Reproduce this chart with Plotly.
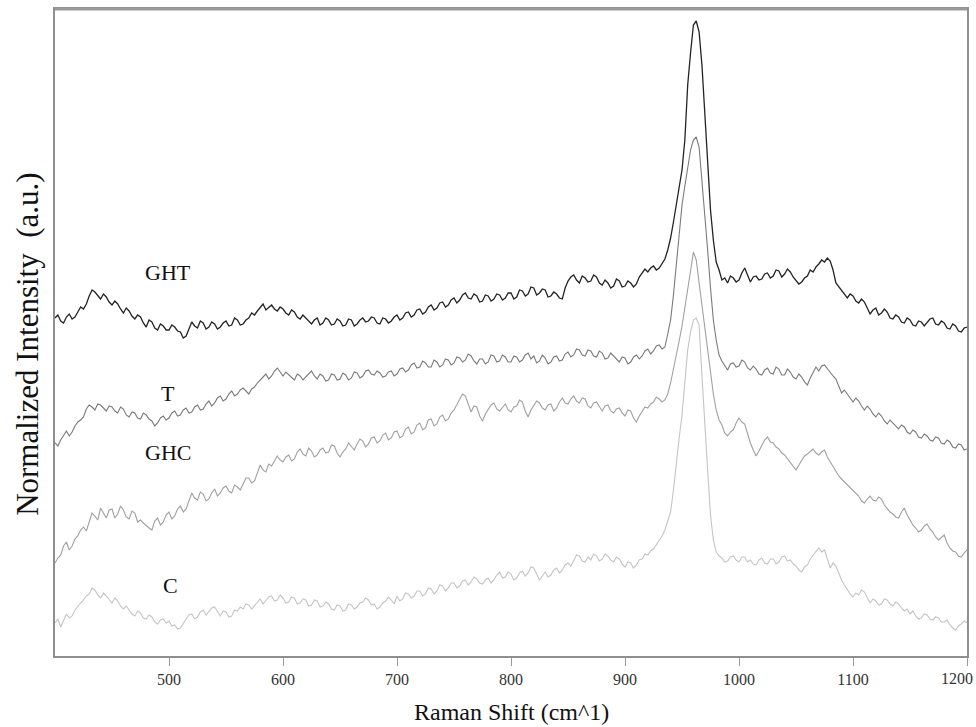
"""Raman spectra of the four samples (GHT, T, GHC, C), stacked, Plotly version."""

import numpy as np
import plotly.graph_objects as go

# wavenumber sampling grid (cm^-1), 2.5 cm^-1 steps
raman_shift = np.arange(400, 1200.1, 2.5)

# intensities (a.u., offset stacked), one value per grid point
ght = [
    338, 341, 335, 333, 339, 342, 337, 339, 344, 349, 347, 352, 360, 366, 364, 360, 357, 362, 359, 354,
    351, 355, 352, 347, 343, 348, 345, 340, 337, 341, 339, 333, 329, 336, 334, 328, 326, 332, 330, 326,
    326, 331, 329, 325, 324, 318, 320, 327, 334, 330, 328, 335, 333, 327, 329, 334, 332, 327, 329, 333,
    335, 330, 331, 338, 336, 331, 332, 336, 338, 343, 341, 345, 348, 352, 346, 349, 351, 347, 345, 349,
    347, 343, 341, 346, 344, 339, 337, 341, 338, 334, 332, 336, 338, 331, 333, 338, 336, 331, 332, 337,
    335, 330, 331, 337, 336, 330, 332, 336, 338, 334, 335, 339, 338, 333, 332, 338, 337, 333, 335, 339,
    341, 336, 338, 343, 344, 339, 341, 346, 347, 342, 344, 349, 351, 346, 348, 353, 354, 349, 351, 356,
    358, 353, 356, 361, 363, 358, 357, 362, 360, 354, 355, 361, 360, 355, 357, 362, 361, 356, 358, 363,
    363, 357, 359, 366, 365, 360, 362, 369, 368, 361, 363, 367, 366, 359, 360, 364, 362, 358, 357, 368,
    375, 379, 381, 376, 373, 380, 378, 374, 375, 381, 379, 373, 371, 376, 373, 368, 370, 377, 375, 369,
    370, 375, 373, 369, 372, 379, 383, 387, 384, 388, 390, 386, 388, 393, 397, 406, 418, 434, 452, 466,
    486, 516, 571, 603, 631, 635, 624, 591, 540, 501, 446, 416, 394, 386, 376, 378, 373, 380, 378, 374,
    376, 383, 388, 381, 374, 379, 380, 376, 377, 382, 383, 378, 380, 386, 385, 379, 382, 387, 384, 379,
    375, 372, 374, 378, 380, 386, 384, 389, 392, 396, 394, 398, 395, 386, 373, 369, 366, 361, 358, 362,
    360, 355, 353, 357, 354, 348, 342, 346, 348, 341, 343, 347, 344, 338, 337, 341, 339, 334, 333, 338,
    336, 331, 330, 335, 334, 330, 333, 337, 338, 332, 331, 335, 333, 328, 327, 332, 330, 325, 324, 328,
    329,
]
t = [
    213, 210, 216, 221, 225, 220, 224, 230, 234, 236, 239, 247, 251, 249, 246, 252, 251, 248, 245, 250,
    249, 245, 243, 249, 247, 241, 239, 244, 243, 238, 237, 243, 241, 237, 235, 230, 233, 238, 240, 236,
    238, 243, 245, 240, 241, 246, 248, 243, 244, 249, 251, 246, 247, 252, 255, 250, 253, 258, 260, 255,
    257, 262, 265, 260, 262, 266, 268, 265, 262, 267, 269, 273, 276, 280, 282, 277, 280, 285, 288, 284,
    280, 284, 281, 278, 276, 282, 280, 276, 279, 283, 285, 280, 277, 282, 280, 275, 276, 282, 281, 276,
    277, 283, 281, 276, 278, 284, 283, 278, 280, 285, 286, 282, 281, 285, 283, 279, 280, 284, 285, 280,
    282, 287, 288, 284, 286, 291, 293, 288, 289, 295, 293, 289, 289, 296, 294, 289, 291, 297, 296, 291,
    293, 299, 298, 294, 296, 302, 300, 295, 292, 297, 297, 292, 294, 301, 300, 294, 295, 301, 299, 294,
    294, 300, 299, 294, 296, 301, 303, 297, 300, 293, 295, 301, 298, 292, 294, 299, 300, 295, 296, 302,
    304, 299, 301, 307, 306, 301, 300, 306, 305, 300, 299, 305, 303, 297, 298, 303, 300, 296, 294, 299,
    298, 292, 294, 299, 301, 297, 300, 305, 307, 302, 305, 310, 311, 307, 309, 322, 336, 361, 393, 422,
    451, 470, 488, 506, 516, 519, 509, 476, 436, 406, 368, 336, 316, 301, 295, 291, 286, 292, 293, 289,
    290, 296, 294, 288, 286, 290, 287, 282, 281, 286, 288, 283, 282, 289, 287, 281, 281, 287, 284, 279,
    277, 282, 279, 274, 271, 278, 284, 289, 285, 290, 291, 287, 284, 280, 277, 270, 263, 266, 262, 257,
    254, 258, 255, 250, 246, 250, 247, 242, 239, 243, 240, 235, 232, 236, 233, 229, 227, 231, 229, 224,
    222, 226, 224, 219, 218, 222, 220, 216, 215, 219, 218, 213, 212, 216, 214, 209, 208, 212, 211, 206,
    207,
]
ghc = [
    93, 98, 101, 110, 114, 106, 110, 117, 120, 126, 129, 125, 134, 143, 140, 136, 148, 143, 138, 146,
    147, 138, 142, 150, 146, 139, 137, 145, 143, 134, 136, 133, 130, 128, 126, 135, 138, 131, 134, 141,
    144, 137, 140, 147, 150, 144, 147, 156, 163, 158, 156, 164, 162, 155, 157, 163, 167, 160, 163, 168,
    170, 165, 163, 171, 169, 166, 172, 178, 178, 173, 175, 184, 191, 186, 184, 192, 190, 195, 200, 196,
    194, 199, 201, 195, 197, 204, 207, 202, 200, 208, 205, 199, 201, 206, 208, 203, 204, 211, 210, 203,
    199, 204, 207, 213, 210, 206, 212, 217, 215, 209, 212, 218, 219, 213, 215, 221, 223, 216, 218, 224,
    225, 218, 220, 227, 229, 222, 224, 231, 233, 226, 228, 236, 237, 230, 232, 239, 241, 235, 237, 243,
    246, 251, 256, 262, 260, 252, 244, 250, 249, 240, 235, 242, 246, 251, 253, 247, 245, 249, 252, 246,
    244, 249, 250, 256, 254, 245, 239, 246, 251, 255, 253, 248, 246, 251, 252, 245, 248, 254, 258, 253,
    252, 257, 260, 255, 253, 258, 257, 250, 248, 253, 254, 249, 245, 250, 251, 245, 243, 247, 248, 243,
    240, 246, 245, 238, 234, 240, 244, 249, 248, 252, 254, 259, 257, 254, 256, 262, 273, 286, 300, 315,
    330, 347, 364, 385, 404, 396, 373, 351, 328, 306, 284, 262, 246, 236, 231, 223, 220, 224, 226, 233,
    238, 234, 232, 222, 213, 206, 200, 205, 211, 216, 219, 214, 213, 209, 207, 203, 201, 197, 194, 189,
    186, 191, 196, 200, 202, 205, 207, 203, 201, 204, 206, 199, 194, 189, 184, 180, 177, 174, 171, 168,
    166, 162, 160, 155, 153, 157, 160, 156, 155, 159, 157, 151, 147, 144, 142, 139, 138, 144, 148, 141,
    136, 131, 128, 124, 126, 130, 132, 127, 124, 119, 116, 119, 121, 113, 108, 105, 104, 100, 99, 103,
    106,
]
c = [
    33, 37, 29, 35, 42, 38, 40, 46, 50, 53, 56, 60, 62, 68, 66, 61, 58, 63, 60, 56,
    53, 58, 55, 50, 47, 50, 46, 42, 40, 45, 43, 38, 37, 41, 39, 34, 32, 36, 37, 33,
    35, 30, 31, 27, 28, 33, 37, 41, 42, 37, 39, 44, 46, 41, 44, 48, 49, 44, 40, 45,
    44, 39, 40, 46, 45, 49, 47, 52, 51, 47, 50, 54, 57, 52, 55, 59, 60, 55, 56, 61,
    58, 53, 54, 59, 58, 52, 53, 57, 56, 50, 51, 56, 55, 49, 50, 54, 52, 47, 46, 51,
    50, 45, 46, 52, 51, 47, 49, 53, 54, 58, 56, 51, 52, 47, 49, 53, 55, 59, 56, 52,
    60, 55, 57, 63, 62, 58, 60, 65, 65, 60, 62, 68, 67, 62, 65, 71, 70, 65, 68, 73,
    73, 68, 70, 75, 76, 71, 74, 79, 77, 73, 72, 76, 78, 73, 76, 81, 84, 78, 79, 84,
    82, 76, 78, 83, 85, 80, 83, 89, 88, 82, 76, 80, 84, 79, 81, 86, 88, 83, 86, 91,
    93, 90, 96, 101, 100, 95, 94, 99, 96, 102, 100, 95, 97, 102, 100, 96, 94, 99, 97, 92,
    89, 94, 93, 88, 91, 96, 97, 102, 101, 105, 107, 111, 115, 120, 126, 134, 144, 166, 194, 218,
    241, 276, 306, 324, 336, 338, 331, 280, 226, 186, 141, 116, 104, 100, 98, 94, 95, 99, 100, 96,
    94, 99, 99, 94, 96, 92, 91, 96, 98, 93, 92, 97, 97, 92, 94, 99, 100, 95, 96, 92,
    90, 86, 84, 89, 91, 97, 101, 105, 108, 104, 106, 97, 88, 93, 90, 83, 76, 71, 66, 62,
    59, 63, 61, 66, 64, 58, 53, 57, 55, 51, 52, 57, 56, 52, 50, 54, 52, 48, 45, 47,
    42, 45, 40, 37, 38, 42, 41, 37, 36, 39, 38, 34, 34, 36, 31, 28, 26, 30, 32, 35,
    33,
]

series_names = ["GHT", "T", "GHC", "C"]
series_values = [ght, t, ghc, c]
series_colors = ["#232323", "#7a7a7a", "#a0a0a0", "#c4c4c4"]
series_widths = [1.3, 1.1, 1.1, 1.1]
# where each sample name is written (cm^-1, a.u.)
label_x = [499, 499, 499, 501]
label_y = [384, 263, 204, 71]

x_ticks = [500, 600, 700, 800, 900, 1000, 1100, 1200]
# the last label sits against the right edge, so it is drawn separately
x_tick_text = ["500", "600", "700", "800", "900", "1000", "1100", ""]
SERIF = "Liberation Serif, Times New Roman, serif"

fig = go.Figure()
for name, vals, col, lw in zip(series_names, series_values, series_colors, series_widths):
    fig.add_trace(
        go.Scatter(
            x=raman_shift,
            y=vals,
            mode="lines",
            name=name,
            line=dict(color=col, width=lw),
            showlegend=False,
        )
    )

for name, lx, ly in zip(series_names, label_x, label_y):
    fig.add_annotation(
        x=lx, y=ly, text=name, showarrow=False,
        font=dict(family=SERIF, size=22, color="#111111"),
        xanchor="center", yanchor="middle",
    )

fig.add_annotation(
    xref="paper", yref="paper", x=1.009, y=-0.0355, text="1200",
    showarrow=False, xanchor="right", yanchor="middle",
    font=dict(family=SERIF, size=16, color="#333333"),
)
fig.add_annotation(
    xref="paper", yref="paper", x=0.5, y=-0.087, text="Raman Shift (cm^1)",
    showarrow=False, xanchor="center", yanchor="middle",
    font=dict(family=SERIF, size=24, color="#111111"),
)
fig.add_annotation(
    xref="paper", yref="paper", x=-0.031, y=0.482, text="Normalized Intensity  (a.u.)",
    showarrow=False, textangle=-90, xanchor="center", yanchor="middle",
    font=dict(family=SERIF, size=31, color="#111111"),
)

# heavier top rule of the frame
fig.add_shape(
    type="line", xref="paper", yref="paper", x0=0, x1=1, y0=1, y1=1,
    line=dict(color="#9a9a9a", width=3),
)

fig.update_layout(
    width=976,
    height=727,
    margin=dict(l=55, r=9, t=9, b=71),
    paper_bgcolor="white",
    plot_bgcolor="white",
    font=dict(family=SERIF, color="#222222"),
)
fig.update_xaxes(
    range=[400, 1200],
    tickvals=x_ticks,
    ticktext=x_tick_text,
    ticks="outside",
    ticklen=8,
    tickcolor="#9a9a9a",
    tickfont=dict(family=SERIF, size=16, color="#333333"),
    automargin=False,
    showgrid=False,
    zeroline=False,
    showline=True,
    mirror=True,
    linecolor="#8e8e8e",
    linewidth=2,
)
fig.update_yaxes(
    range=[0, 647],
    showticklabels=False,
    ticks="",
    automargin=False,
    showgrid=False,
    zeroline=False,
    showline=True,
    mirror=True,
    linecolor="#8e8e8e",
    linewidth=2,
)

# drop the browser's default body margin so the figure sits at the page origin
fig.write_html(
    "out.html",
    config={"displayModeBar": False},
    post_script="document.body.style.margin='0';",
)
